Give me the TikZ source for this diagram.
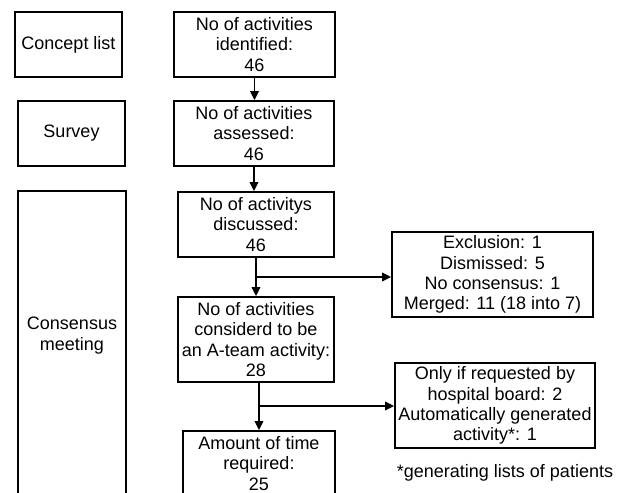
\documentclass[tikz,border=0pt]{standalone}
\usepackage{fontspec}
\setmainfont{Liberation Sans}
\usetikzlibrary{arrows.meta}
\begin{document}
\begin{tikzpicture}[x=1pt,y=-1pt,
  box/.style={draw, line width=1.8pt, align=center, inner sep=0pt,
    font=\fontsize{18}{20.2}\selectfont},
  txt/.style={align=center, inner sep=0pt, font=\fontsize{18}{20.6}\selectfont},
  arr/.style={line width=1.8pt, -{Triangle[length=9pt,width=8.5pt]}}]
\clip (0,0) rectangle (622,493);
\fill[white] (0,0) rectangle (622,493);
% left column
\node[box, minimum width=107pt, minimum height=65pt] (cl) at (68.5,44.5) {Concept list};
\node[box, minimum width=107pt, minimum height=65pt] (sv) at (71.5,133.5) {Survey};
\node[box, minimum width=108pt, minimum height=340pt] (cm) at (72,361) {};
\node[txt] (cmt) at (72,335.5) {Consensus\\meeting};
% main column
\node[box, minimum width=161pt, minimum height=65pt] (b1) at (254.5,44.5) {No of activities\\identified:\\46};
\node[box, minimum width=160pt, minimum height=65pt] (b2) at (254,133.5) {No of activities\\assessed:\\46};
\node[box, minimum width=156pt, minimum height=65pt] (b3) at (256,224.5) {No of activitys\\discussed:\\46};
\node[box, minimum width=156pt, minimum height=85pt] (b4) at (256,339.5) {No of activities\\considerd to be\\an A-team activity:\\28};
\node[box, minimum width=152pt, minimum height=65pt] (b5) at (259,463.5) {Amount of time\\required:\\25};
% right column
\node[box, minimum width=201pt, minimum height=85pt] (r1) at (492.5,274.5) {Exclusion: 1\\Dismissed: 5\\No consensus: 1\\Merged: 11 (18 into 7)};
\node[box, minimum width=200pt, minimum height=85pt] (r2) at (495,405.5) {Only if requested by\\hospital board: 2\\Automatically generated\\activity*: 1};
\node[txt] (fn) at (505,473) {*generating lists of patients};
% connectors
\coordinate (j1) at (256,277);
\coordinate (j2) at (259,406);
\draw[arr] (b1.south) -- (b1.south |- b2.north);
\draw[arr] (b2.south) -- (b2.south |- b3.north);
\draw[arr] (b3.south) -- (b4.north);
\draw[arr] (j1) -- (j1 -| r1.west);
\draw[arr] (b5.north |- b4.south) -- (b5.north);
\draw[arr] (j2) -- (j2 -| r2.west);
\end{tikzpicture}
\end{document}
